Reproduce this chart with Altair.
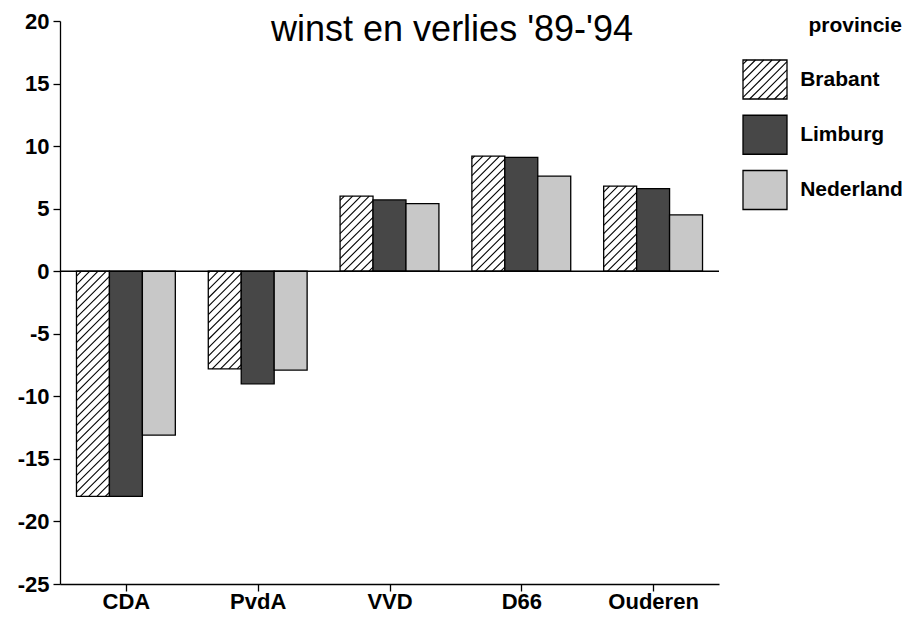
import json
import altair as alt
import pandas as pd

# ---------------- data ----------------
parties = ["CDA", "PvdA", "VVD", "D66", "Ouderen"]
series = ["Brabant", "Limburg", "Nederland"]
brabant = [-18.0, -7.8, 6.0, 9.2, 6.8]
limburg = [-18.0, -9.0, 5.7, 9.1, 6.6]
nederland = [-13.1, -7.9, 5.4, 7.6, 4.5]
y_ticks = [-25, -20, -15, -10, -5, 0, 5, 10, 15, 20]
title_text = "winst en verlies '89-'94"
legend_title = "provincie"

rows = []
for s, vals in zip(series, [brabant, limburg, nederland]):
    for p, v in zip(parties, vals):
        rows.append({"party": p, "series": s, "value": v})
df = pd.DataFrame(rows)

# ---------------- style / layout constants ----------------
FONT = "Liberation Sans"
W, H = 659, 563
Y_DOM = [-25, 20]
X_DOM = [0, len(parties)]
PX = W / (X_DOM[1] - X_DOM[0])
PY = H / (Y_DOM[1] - Y_DOM[0])
BAR_W = 0.25
GROUP_OFF = (1 - BAR_W * len(series)) / 2
fills = ["#ffffff", "#474747", "#c8c8c8"]
HATCH_STEP = 8.3

P_JS = json.dumps(parties)
S_JS = json.dumps(series)

xscale = alt.Scale(domain=X_DOM, nice=False, zero=False)
yscale = alt.Scale(domain=Y_DOM, nice=False, zero=False)
fill_scale = alt.Scale(domain=series, range=fills)

xaxis = alt.Axis(
    values=[i + 0.5 for i in range(len(parties))],
    labelExpr=f"{P_JS}[floor(datum.value)]",
    title=None, grid=False, tickSize=7, labelPadding=0,
    labelFontSize=22, labelFontWeight="bold", labelFont=FONT, labelColor="black",
    domainColor="black", tickColor="black", domainWidth=1.3, tickWidth=1.3,
    labelFlush=False,
)
yaxis = alt.Axis(
    values=y_ticks, labelExpr="datum.value + ''",
    title=None, grid=False, tickSize=7, labelPadding=4,
    labelFontSize=22, labelFontWeight="bold", labelFont=FONT, labelColor="black",
    domainColor="black", tickColor="black", domainWidth=1.3, tickWidth=1.3,
)


def hatch(chart, x0, w, lo, hi, px, py, step, xsc, ysc, xax, yax):
    return (
        chart.transform_calculate(hx0=x0)
        .transform_calculate(hlo=lo)
        .transform_calculate(hW=f"{w}*{px}")
        .transform_calculate(hH=f"(({hi})-({lo}))*{py}")
        .transform_calculate(hc=f"sequence(-datum.hW + {step / 2}, datum.hH, {step})")
        .transform_flatten(["hc"])
        .transform_calculate(hsa="max(0, -datum.hc)")
        .transform_calculate(hsb="min(datum.hW, datum.hH - datum.hc)")
        .transform_calculate(X1=f"datum.hx0 + datum.hsa/{px}")
        .transform_calculate(X2=f"datum.hx0 + datum.hsb/{px}")
        .transform_calculate(Y1=f"datum.hlo + (datum.hsa + datum.hc)/{py}")
        .transform_calculate(Y2=f"datum.hlo + (datum.hsb + datum.hc)/{py}")
        .mark_rule(color="black", strokeWidth=1.1)
        .encode(
            x=alt.X("X1:Q", scale=xsc, axis=xax),
            x2="X2:Q",
            y=alt.Y("Y1:Q", scale=ysc, axis=yax),
            y2="Y2:Q",
        )
    )


base = (
    alt.Chart(df)
    .transform_calculate(pi=f"indexof({P_JS}, datum.party)")
    .transform_calculate(si=f"indexof({S_JS}, datum.series)")
    .transform_calculate(xl=f"datum.pi + {GROUP_OFF} + {BAR_W}*datum.si")
    .transform_calculate(xr=f"datum.xl + {BAR_W}")
)

bars = base.mark_rect(stroke="black", strokeWidth=1.3).encode(
    x=alt.X("xl:Q", scale=xscale, axis=xaxis),
    x2="xr:Q",
    y=alt.Y("value:Q", scale=yscale, axis=yaxis),
    y2=alt.datum(0),
    fill=alt.Fill("series:N", scale=fill_scale, legend=None),
)

bar_hatch = hatch(
    base.transform_filter(f"datum.series == {json.dumps(series[0])}"),
    "datum.xl", BAR_W, "min(0, datum.value)", "max(0, datum.value)",
    PX, PY, HATCH_STEP, xscale, yscale, xaxis, yaxis,
)

zero_rule = (
    alt.Chart(df)
    .transform_aggregate(n="count()")
    .mark_rule(color="black", strokeWidth=1.5)
    .encode(y=alt.datum(0, scale=yscale, axis=yaxis))
)

main = alt.layer(bars, bar_hatch, zero_rule)

# ---------------- legend panel (drawn from the series list) ----------------
LX_RANGE = [683, 727]
LY_RANGE = [169, 58.5]
L_PX = LX_RANGE[1] - LX_RANGE[0]
L_PY = (LY_RANGE[0] - LY_RANGE[1]) / (len(series) - 1)
SW_HALF = 0.353
lxs = alt.Scale(domain=[0, 1], range=LX_RANGE, nice=False, zero=False)
lys = alt.Scale(domain=[-len(series), -1], range=LY_RANGE, nice=False, zero=False)

lbase = (
    alt.Chart(pd.DataFrame({"series": series}))
    .transform_calculate(pos=f"-(indexof({S_JS}, datum.series) + 1)")
    .transform_calculate(lo=f"datum.pos - {SW_HALF}")
    .transform_calculate(hi=f"datum.pos + {SW_HALF}")
    .transform_calculate(lx0="0")
    .transform_calculate(lx1="1")
    .transform_calculate(lxt="1.3")
)

swatches = lbase.mark_rect(stroke="black", strokeWidth=1.3).encode(
    x=alt.X("lx0:Q", scale=lxs, axis=None),
    x2="lx1:Q",
    y=alt.Y("lo:Q", scale=lys, axis=None),
    y2="hi:Q",
    fill=alt.Fill("series:N", scale=fill_scale, legend=None),
)

sw_hatch = hatch(
    lbase.transform_filter(f"datum.series == {json.dumps(series[0])}"),
    "0", 1, "datum.lo", "datum.hi", L_PX, L_PY, HATCH_STEP, lxs, lys, None, None,
)

labels = lbase.mark_text(
    align="left", baseline="middle", fontSize=21, fontWeight="bold", font=FONT, color="black"
).encode(
    x=alt.X("lxt:Q", scale=lxs, axis=None),
    y=alt.Y("pos:Q", scale=lys, axis=None),
    text="series:N",
)

ltitle = (
    alt.Chart(pd.DataFrame({"label": [legend_title]}))
    .transform_calculate(tx="2.55")
    .transform_calculate(ty="0")
    .mark_text(align="center", baseline="alphabetic", dy=8, fontSize=21,
               fontWeight="bold", font=FONT, color="black")
    .encode(
        x=alt.X("tx:Q", scale=lxs, axis=None),
        y=alt.Y("ty:Q", scale=lys, axis=None),
        text="label:N",
    )
)

# chart title, set inside the plot frame as in the original
chart_title = (
    alt.Chart(pd.DataFrame({"label": [title_text]}))
    .mark_text(align="center", baseline="alphabetic", fontSize=36,
               fontWeight="normal", font=FONT, color="black")
    .encode(x=alt.value(392), y=alt.value(20), text="label:N")
)

legend = alt.layer(swatches, sw_hatch, labels, ltitle, chart_title)

chart = (
    alt.layer(main, legend)
    .resolve_scale(x="independent", y="independent")
    .properties(
        width=W,
        height=H,
        autosize=alt.AutoSizeParams(type="none"),
        padding={"left": 52, "top": 13, "right": 188, "bottom": 30},
    )
    .configure_view(stroke=None)
)

chart.save("out.html", embed_options={"renderer": "svg", "actions": False})
